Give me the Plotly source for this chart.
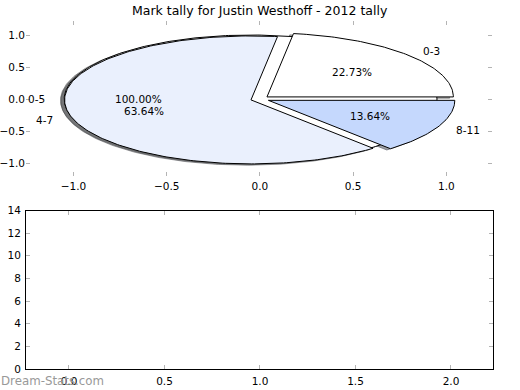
import numpy as np
import plotly.graph_objects as go

# ---- data ----
title_text = "Mark tally for Justin Westhoff - 2012 tally"
outer_labels = ["0-5"]
outer_values = [22]
outer_colors = ["#ffffff"]

slice_labels = ["0-3", "4-7", "8-11"]
slice_values = [5, 14, 3]
slice_colors = ["#ffffff", "#eaf0fd", "#c5d8fd"]

explode = 0.05
top_xticks = [-1.0, -0.5, 0.0, 0.5, 1.0]
top_xticktext = ["\u22121.0", "\u22120.5", "0.0", "0.5", "1.0"]
top_yticks = [-1.0, -0.5, 0.0, 0.5, 1.0]
top_yticktext = ["\u22121.0", "\u22120.5", "0.0", "0.5", "1.0"]
bot_xticks = [0.0, 0.5, 1.0, 1.5, 2.0]
bot_xticktext = ["0.0", "0.5", "1.0", "1.5", "2.0"]
bot_yticks = [0, 2, 4, 6, 8, 10, 12, 14]
bot_yticktext = ["0", "2", "4", "6", "8", "10", "12", "14"]

W, H = 520, 390
FONT = "DejaVu Sans"
TICKC = "#b4b4b4"

fig = go.Figure()


def wedge_poly(cx, cy, t1, t2, r=1.0):
    full = abs((t2 - t1) - 360) < 1e-9
    n = max(int(abs(t2 - t1)) + 2, 3)
    th = np.radians(np.linspace(t1, t2, n))
    xs = list(cx + r * np.cos(th))
    ys = list(cy + r * np.sin(th))
    if not full:
        xs = [cx] + xs + [cx]
        ys = [cy] + ys + [cy]
    return xs, ys


def hex_rgb(h):
    h = h.lstrip("#")
    return tuple(int(h[i:i + 2], 16) for i in (0, 2, 4))


def build(labels, values, colors):
    tot = float(sum(values))
    out = []
    t1 = 0.0
    for lab, v, c in zip(labels, values, colors):
        frac = v / tot
        t2 = t1 + 360.0 * frac
        tm = np.radians((t1 + t2) / 2)
        cx = explode * np.cos(tm)
        cy = explode * np.sin(tm)
        out.append(dict(label=lab, pct=frac * 100, color=c, t1=t1, t2=t2,
                        cx=cx, cy=cy, tm=tm))
        t1 = t2
    return out


pies = [build(outer_labels, outer_values, outer_colors),
        build(slice_labels, slice_values, slice_colors)]

# shadows (drawn beneath)
for pie in pies:
    for w in pie:
        xs, ys = wedge_poly(w["cx"] - 0.02, w["cy"] - 0.02, w["t1"], w["t2"])
        r, g, b = hex_rgb(w["color"])
        sc = "rgba(%d,%d,%d,0.5)" % (r * .3, g * .3, b * .3)
        fig.add_trace(go.Scatter(x=xs, y=ys, fill="toself", fillcolor=sc,
                                 mode="lines", line=dict(color=sc, width=1),
                                 hoverinfo="skip", showlegend=False,
                                 xaxis="x", yaxis="y"))

# wedges
for pie in pies:
    for w in pie:
        xs, ys = wedge_poly(w["cx"], w["cy"], w["t1"], w["t2"])
        fig.add_trace(go.Scatter(x=xs, y=ys, fill="toself", fillcolor=w["color"],
                                 mode="lines", line=dict(color="black", width=1),
                                 hoverinfo="skip", showlegend=False,
                                 xaxis="x", yaxis="y"))

annotations = []
for pie in pies:
    for w in pie:
        lx = w["cx"] + 1.1 * np.cos(w["tm"])
        ly = w["cy"] + 1.1 * np.sin(w["tm"])
        px = w["cx"] + 0.6 * np.cos(w["tm"])
        py = w["cy"] + 0.6 * np.sin(w["tm"])
        annotations.append(dict(x=lx, y=ly, xref="x", yref="y", text=w["label"],
                                showarrow=False, xanchor="left" if lx > 0 else "right",
                                yanchor="middle", borderpad=0,
                                font=dict(family=FONT, size=10.5, color="black")))
        annotations.append(dict(x=px, y=py, xref="x", yref="y",
                                text="%.2f%%" % w["pct"], showarrow=False,
                                xanchor="center", yanchor="middle", borderpad=0,
                                font=dict(family=FONT, size=10.5, color="black")))

annotations.append(dict(x=0.5, y=1 - 10 / H, xref="paper", yref="paper",
                        text=title_text, showarrow=False, xanchor="center",
                        yanchor="middle",
                        font=dict(family=FONT, size=12.5, color="black")))
annotations.append(dict(x=0, y=1 - 380.5 / H, xref="paper", yref="paper",
                        text="Dream-Stats.com", showarrow=False, xanchor="left",
                        yanchor="middle", borderpad=0,
                        font=dict(family=FONT, size=11.8, color="#999999")))

# empty placeholder trace for bottom axes
fig.add_trace(go.Scatter(x=[], y=[], xaxis="x2", yaxis="y2", showlegend=False))

ax_common = dict(showgrid=False, zeroline=False, ticks="inside", ticklen=4,
                 tickwidth=1, tickcolor=TICKC, automargin=False,
                 tickfont=dict(family=FONT, size=10.5, color="black"))

fig.update_layout(
    width=W, height=H,
    margin=dict(l=0, r=0, t=0, b=0, pad=0),
    paper_bgcolor="white", plot_bgcolor="white",
    showlegend=False,
    annotations=annotations,
    xaxis=dict(domain=[26 / W, 492 / W], range=[-1.255, 1.245], anchor="y",
               tickvals=top_xticks, ticktext=top_xticktext, showline=False,
               mirror="ticks", ticklabelstandoff=2, **ax_common),
    yaxis=dict(domain=[1 - 176 / H, 1 - 21 / H], range=[-1.203, 1.219], anchor="x",
               tickvals=top_yticks, ticktext=top_yticktext, showline=False,
               mirror="ticks", ticklabelstandoff=0, **ax_common),
    xaxis2=dict(domain=[26 / W, 493 / W], range=[-0.225, 2.22], anchor="y2",
                tickvals=bot_xticks, ticktext=bot_xticktext, showline=True,
                linecolor="black", linewidth=1, mirror="ticks",
                ticklabelstandoff=2, **ax_common),
    yaxis2=dict(domain=[1 - 369 / H, 1 - 210.5 / H], range=[0, 14], anchor="x2",
                tickvals=bot_yticks, ticktext=bot_yticktext, showline=True,
                linecolor="black", linewidth=1, mirror="ticks",
                ticklabelstandoff=2, **ax_common),
)

fig.write_html("out.html", config={"displayModeBar": False},
               post_script="document.body.style.margin='0';document.body.style.padding='0';")
